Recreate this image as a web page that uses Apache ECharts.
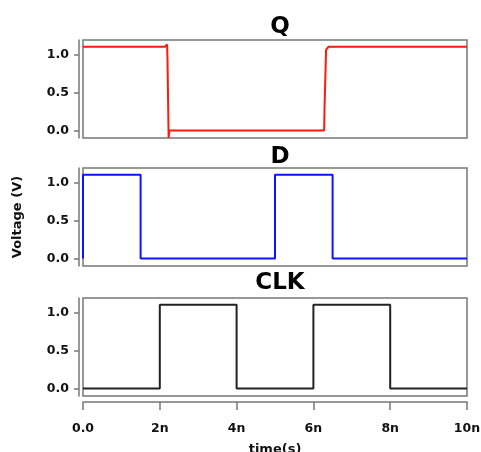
<!DOCTYPE html>
<html>
<head>
<meta charset="utf-8">
<script src="https://cdn.jsdelivr.net/npm/echarts@6/dist/echarts.min.js"></script>
<style>
  html, body { margin: 0; padding: 0; background: #fff; }
  #main { width: 481px; height: 452px; }
</style>
</head>
<body>
<div id="main"></div>
<script>
// time in ns, voltage in V
var q_data = [
    [0, 1.1], [2.13, 1.1], [2.14, 1.08], [2.15, 1.1], [2.18, 1.1], [2.19, 1.13],
    [2.2, 0.95], [2.23, -0.1], [2.25, 0], [6.28, 0], [6.29, 0.3],
    [6.3, 0.32], [6.33, 1.06], [6.35, 1.08], [6.38, 1.08], [6.39, 1.1], [10, 1.1]
];
var d_data = [
    [0, 0], [0, 1.1], [1.5, 1.1], [1.5, 0], [5, 0], [5, 1.1], [6.5, 1.1], [6.5, 0], [10, 0]
];
var clk_data = [
    [0, 0], [2, 0], [2, 1.1], [4, 1.1], [4, 0], [6, 0], [6, 1.1], [8, 1.1], [8, 0], [10, 0]
];
var titles = ['Q', 'D', 'CLK'];
var colors = ['#ff1a0a', '#0a14ff', '#222222'];
var y_ticks = [0, 0.5, 1.0];
var x_ticks = [0, 2, 4, 6, 8, 10];

var font = 'DejaVu Sans';
var tops = [40, 168, 298];
var titleTops = [11, 141, 267];
var allData = [q_data, d_data, clk_data];

var myChart = echarts.init(document.getElementById('main'));

var grids = [], xAxes = [], yAxes = [], series = [], titleList = [];
for (let i = 0; i < 3; i++) {
    grids.push({
        left: 83, width: 384, top: tops[i], height: 98,
        show: true, borderColor: '#777', borderWidth: 1.5,
        containLabel: false,
        outerBoundsMode: 'none'
    });
    titleList.push({
        text: titles[i],
        left: 275, top: titleTops[i],
        textAlign: 'center',
        textStyle: { fontFamily: font, fontWeight: 'bold', fontSize: 23, color: '#000' }
    });
    let isLast = i === 2;
    xAxes.push({
        gridIndex: i, type: 'value', min: 0, max: 10,
        show: isLast,
        offset: 6,
        splitLine: { show: false },
        axisLine: { show: true, onZero: false, lineStyle: { color: '#777', width: 1.5 } },
        axisTick: { show: true, inside: false, length: 8, customValues: x_ticks, lineStyle: { color: '#777', width: 1.5 } },
        axisLabel: {
            customValues: x_ticks, margin: 20,
            fontFamily: font, fontWeight: 'bold', fontSize: 12.5, color: '#111',
            formatter: function (v) { return v === 0 ? '0.0' : v + 'n'; }
        },
        name: isLast ? 'time(s)' : '',
        nameLocation: 'middle', nameGap: 41,
        nameTextStyle: { fontFamily: font, fontWeight: 'bold', fontSize: 13, color: '#111' }
    });
    yAxes.push({
        gridIndex: i, type: 'value', min: -0.1, max: 1.19,
        offset: 4,
        splitLine: { show: false },
        axisLine: { show: true, onZero: false, lineStyle: { color: '#777', width: 1.5 } },
        axisTick: { show: true, length: 5, customValues: y_ticks, lineStyle: { color: '#777', width: 1.5 } },
        axisLabel: {
            customValues: y_ticks, margin: 10,
            fontFamily: font, fontWeight: 'bold', fontSize: 12.5, color: '#111',
            formatter: function (v) { return v.toFixed(1); }
        },
        name: i === 1 ? 'Voltage (V)' : '',
        nameLocation: 'middle', nameGap: 55,
        nameTextStyle: { fontFamily: font, fontWeight: 'bold', fontSize: 13, color: '#111' }
    });
    series.push({
        type: 'line', xAxisIndex: i, yAxisIndex: i,
        data: allData[i],
        showSymbol: false, symbol: 'none',
        lineStyle: { color: colors[i], width: 2 },
        itemStyle: { color: colors[i] },
        animation: false
    });
}

var option = {
    animation: false,
    title: titleList,
    grid: grids,
    xAxis: xAxes,
    yAxis: yAxes,
    series: series
};
option && myChart.setOption(option);
</script>
</body>
</html>
